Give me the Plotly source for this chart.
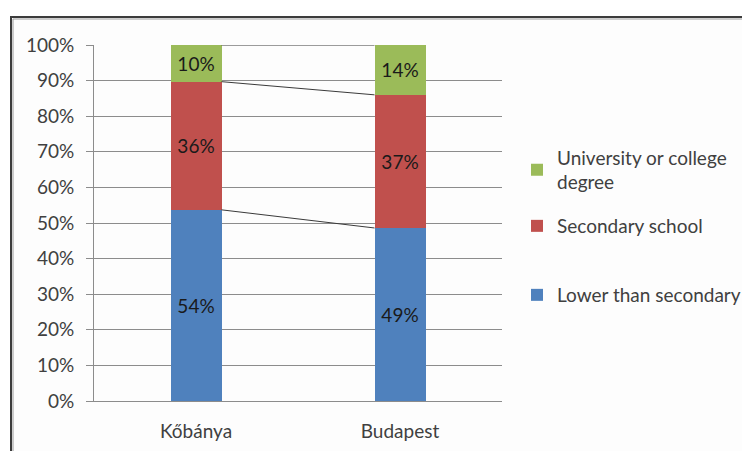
import plotly.graph_objects as go

categories = ["Kőbánya", "Budapest"]
lower_than_secondary = [0.537, 0.486]
secondary_school = [0.360, 0.374]
university_degree = [0.103, 0.140]
series_names = ["Lower than secondary", "Secondary school", "University or college<br>degree"]
series_colors = ["#4F81BD", "#C0504D", "#9BBB59"]
y_tick_values = [i / 10 for i in range(11)]
y_tick_labels = [f"{i*10}%" for i in range(11)]

FONT = "Lato"
FS = 19
TXT = "#404040"
bar_width = 0.25
xpos = list(range(len(categories)))

fig = go.Figure()
series = [lower_than_secondary, secondary_school, university_degree]
legends = ["legend3", "legend2", "legend"]
for vals, name, col, lg in zip(series, series_names, series_colors, legends):
    fig.add_trace(go.Bar(
        x=xpos, y=vals, name=name, marker=dict(color=col, line=dict(width=0)),
        width=bar_width, texttemplate="%{y:.0%}", textposition="inside",
        insidetextanchor="middle", textangle=0, constraintext="none",
        textfont=dict(family=FONT, size=FS, color="#1a1a1a"),
        legend=lg, hoverinfo="skip"))

# series lines connecting stack boundaries
cum = [0.0] * len(categories)
for vals in series:
    cum = [c + v for c, v in zip(cum, vals)]
    for i in range(len(categories) - 1):
        fig.add_trace(go.Scatter(
            x=[xpos[i] + bar_width / 2, xpos[i + 1] - bar_width / 2],
            y=[cum[i], cum[i + 1]], mode="lines", cliponaxis=False,
            line=dict(color="#3a3a3a", width=1), showlegend=False, hoverinfo="skip"))

OFF = 8  # page body margin
FW, FH = 750, 451
L, R, T, B = 94 - OFF, FW - (502 - OFF), 45 - OFF, FH - (401 - OFF)
W = FW - L - R
H = FH - T - B

def px(xs):  # screen x -> paper
    return (xs - OFF - L) / W

def py(ys):  # screen y -> paper
    return (FH - B - (ys - OFF)) / H

fig.add_shape(type="rect", xref="paper", yref="paper", layer="below",
              x0=px(11), x1=px(770), y0=py(17), y1=py(470),
              line=dict(color="#3c3c3c", width=2), fillcolor="#fdfdfd")
fig.add_shape(type="line", xref="paper", yref="paper", layer="below",
              x0=px(13), x1=px(13), y0=py(19), y1=py(470),
              line=dict(color="#9a9a9a", width=1))
fig.add_shape(type="line", xref="paper", yref="paper", layer="below",
              x0=px(13), x1=px(770), y0=py(19), y1=py(19),
              line=dict(color="#9a9a9a", width=1))

leg_common = dict(font=dict(family=FONT, size=FS, color=TXT), bgcolor="rgba(0,0,0,0)",
                  xanchor="left", yanchor="middle", itemclick=False)
fig.update_layout(
    width=FW, height=FH,
    margin=dict(l=L, r=R, t=T, b=B, autoexpand=False),
    paper_bgcolor="white", plot_bgcolor="rgba(0,0,0,0)",
    barmode="stack",
    showlegend=True,
    legend=dict(x=px(517), y=py(170), **leg_common),
    legend2=dict(x=px(517), y=py(226), **leg_common),
    legend3=dict(x=px(517), y=py(295), **leg_common),
    xaxis=dict(range=[-0.5, 1.5], tickvals=xpos, ticktext=categories, showgrid=False,
               showline=True, linecolor="#8c8c8c", linewidth=1, ticks="",
               ticklabelstandoff=13,
               tickfont=dict(family=FONT, size=FS, color=TXT), zeroline=False,
               fixedrange=True),
    yaxis=dict(range=[0, 1], tickvals=y_tick_values, ticktext=y_tick_labels,
               showgrid=True, gridcolor="#8c8c8c", gridwidth=1,
               showline=True, linecolor="#8c8c8c", linewidth=1,
               ticks="outside", ticklen=7, tickcolor="#8c8c8c",
               ticklabelstandoff=8,
               tickfont=dict(family=FONT, size=FS, color=TXT), zeroline=False,
               fixedrange=True),
)

fig.write_html("out.html")
